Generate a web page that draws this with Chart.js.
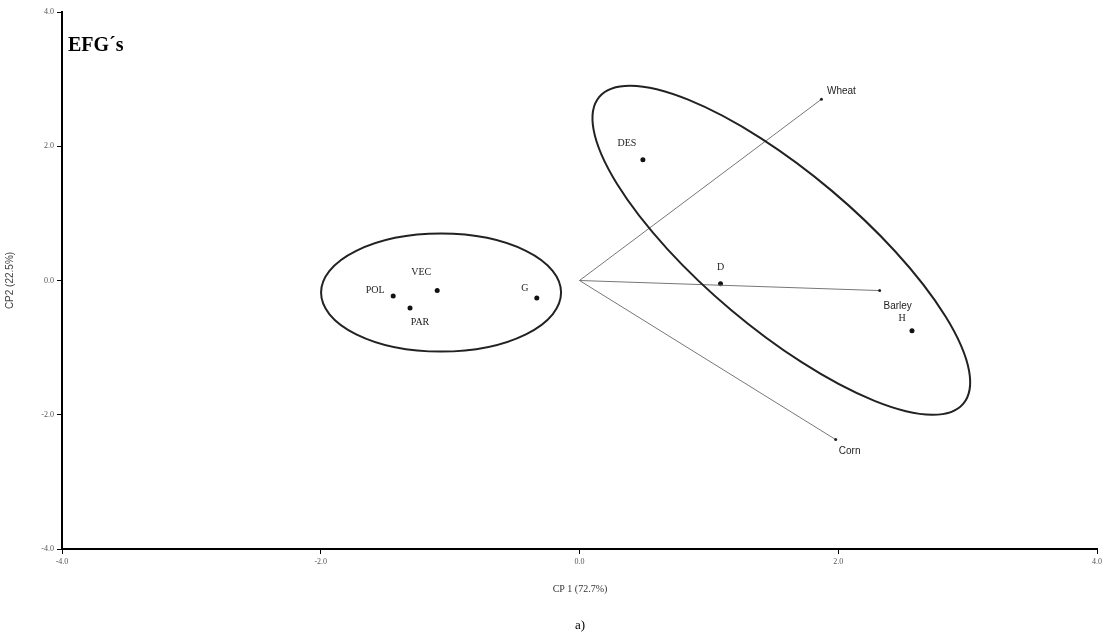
<!DOCTYPE html>
<html><head><meta charset="utf-8">
<script src="https://cdn.jsdelivr.net/npm/chart.js@4"></script>
<style>body{margin:0;background:#fff}#wrap{width:1105px;height:637px}</style>
</head><body><div id="wrap"><canvas id="c"></canvas></div>
<script>
// scores
const pointLabels = ['POL', 'PAR', 'VEC', 'G', 'DES', 'D', 'H'];
const pointX = [-1.44, -1.31, -1.10, -0.33, 0.49, 1.09, 2.57];
const pointY = [-0.23, -0.41, -0.15, -0.26, 1.80, -0.05, -0.75];
// loadings
const vecLabels = ['Wheat', 'Barley', 'Corn'];
const vecX = [1.87, 2.32, 1.98];
const vecY = [2.70, -0.15, -2.37];
const tickVals = [-4, -2, 0, 2, 4];

const labelOffsets = {POL:[-18,-6], PAR:[10,14], VEC:[-16,-18], G:[-12,-10], DES:[-16,-16], D:[0,-16], H:[-10,-12],
  Wheat:[20,-8], Barley:[18,16], Corn:[14,12]};

const datasets = [];
vecLabels.forEach((l, i) => datasets.push({
  type: 'line', data: [{x: 0, y: 0}, {x: vecX[i], y: vecY[i]}], borderColor: '#777', borderWidth: 1,
  pointRadius: [0, 1.5], pointBackgroundColor: '#222', pointBorderWidth: 0
}));
datasets.push({type: 'scatter', data: pointX.map((x, i) => ({x, y: pointY[i]})), pointRadius: 2.5,
  pointBackgroundColor: '#111', pointBorderWidth: 0});

const overlay = {
  id: 'overlay',
  afterDatasetsDraw(chart) {
    const {ctx, scales: {x, y}} = chart;
    ctx.save();
    ctx.fillStyle = '#222';
    ctx.font = '10px "Liberation Serif"';
    ctx.textAlign = 'center'; ctx.textBaseline = 'middle';
    pointLabels.forEach((l, i) => {
      const o = labelOffsets[l];
      ctx.fillText(l, x.getPixelForValue(pointX[i]) + o[0], y.getPixelForValue(pointY[i]) + o[1]);
    });
    ctx.font = '10px "Liberation Sans"';
    vecLabels.forEach((l, i) => {
      const o = labelOffsets[l];
      ctx.fillText(l, x.getPixelForValue(vecX[i]) + o[0], y.getPixelForValue(vecY[i]) + o[1]);
    });
    // group ellipses
    ctx.strokeStyle = '#222'; ctx.lineWidth = 2;
    ctx.beginPath();
    ctx.ellipse(x.getPixelForValue(-1.07), y.getPixelForValue(-0.18), 120, 59, 0, 0, Math.PI * 2);
    ctx.stroke();
    ctx.beginPath();
    ctx.ellipse(x.getPixelForValue(1.56), y.getPixelForValue(0.45), 238, 78, 0.70, 0, Math.PI * 2);
    ctx.stroke();
    ctx.font = 'bold 20px "Liberation Serif"';
    ctx.textAlign = 'left'; ctx.fillStyle = '#000';
    ctx.fillText('EFG´s', 68, 46);
    ctx.textAlign = 'center';
    ctx.font = '10px "Liberation Serif"'; ctx.fillStyle = '#333';
    ctx.fillText('CP 1 (72.7%)', 580, 589);
    ctx.font = '13px "Liberation Serif"'; ctx.fillStyle = '#000';
    ctx.fillText('a)', 580, 626);
    ctx.restore();
  }
};

const tickFont = {family: 'Liberation Serif', size: 8};
new Chart(document.getElementById('c'), {
  data: {datasets},
  plugins: [overlay],
  options: {
    responsive: true, maintainAspectRatio: false, animation: false,
    layout: {padding: {top: 12, right: 7, left: 0, bottom: 0}},
    plugins: {legend: {display: false}, tooltip: {enabled: false}},
    scales: {
      x: {type: 'linear', min: -4, max: 4,
        afterBuildTicks: s => { s.ticks = tickVals.map(v => ({value: v})); },
        afterFit: s => { s.height = 88; },
        ticks: {font: tickFont, color: '#555', callback: v => v.toFixed(1)},
        grid: {drawOnChartArea: false, tickLength: 5, color: '#000'},
        border: {color: '#000', width: 2}
      },
      y: {type: 'linear', min: -4, max: 4,
        afterBuildTicks: s => { s.ticks = tickVals.map(v => ({value: v})); },
        afterFit: s => { s.width = 62; },
        ticks: {font: tickFont, color: '#555', callback: v => v.toFixed(1)},
        grid: {drawOnChartArea: false, tickLength: 5, color: '#000'},
        border: {color: '#000', width: 2},
        title: {display: true, text: 'CP2 (22.5%)', font: {family: 'Liberation Sans', size: 10}, color: '#444'}
      }
    }
  }
});
</script></body></html>
